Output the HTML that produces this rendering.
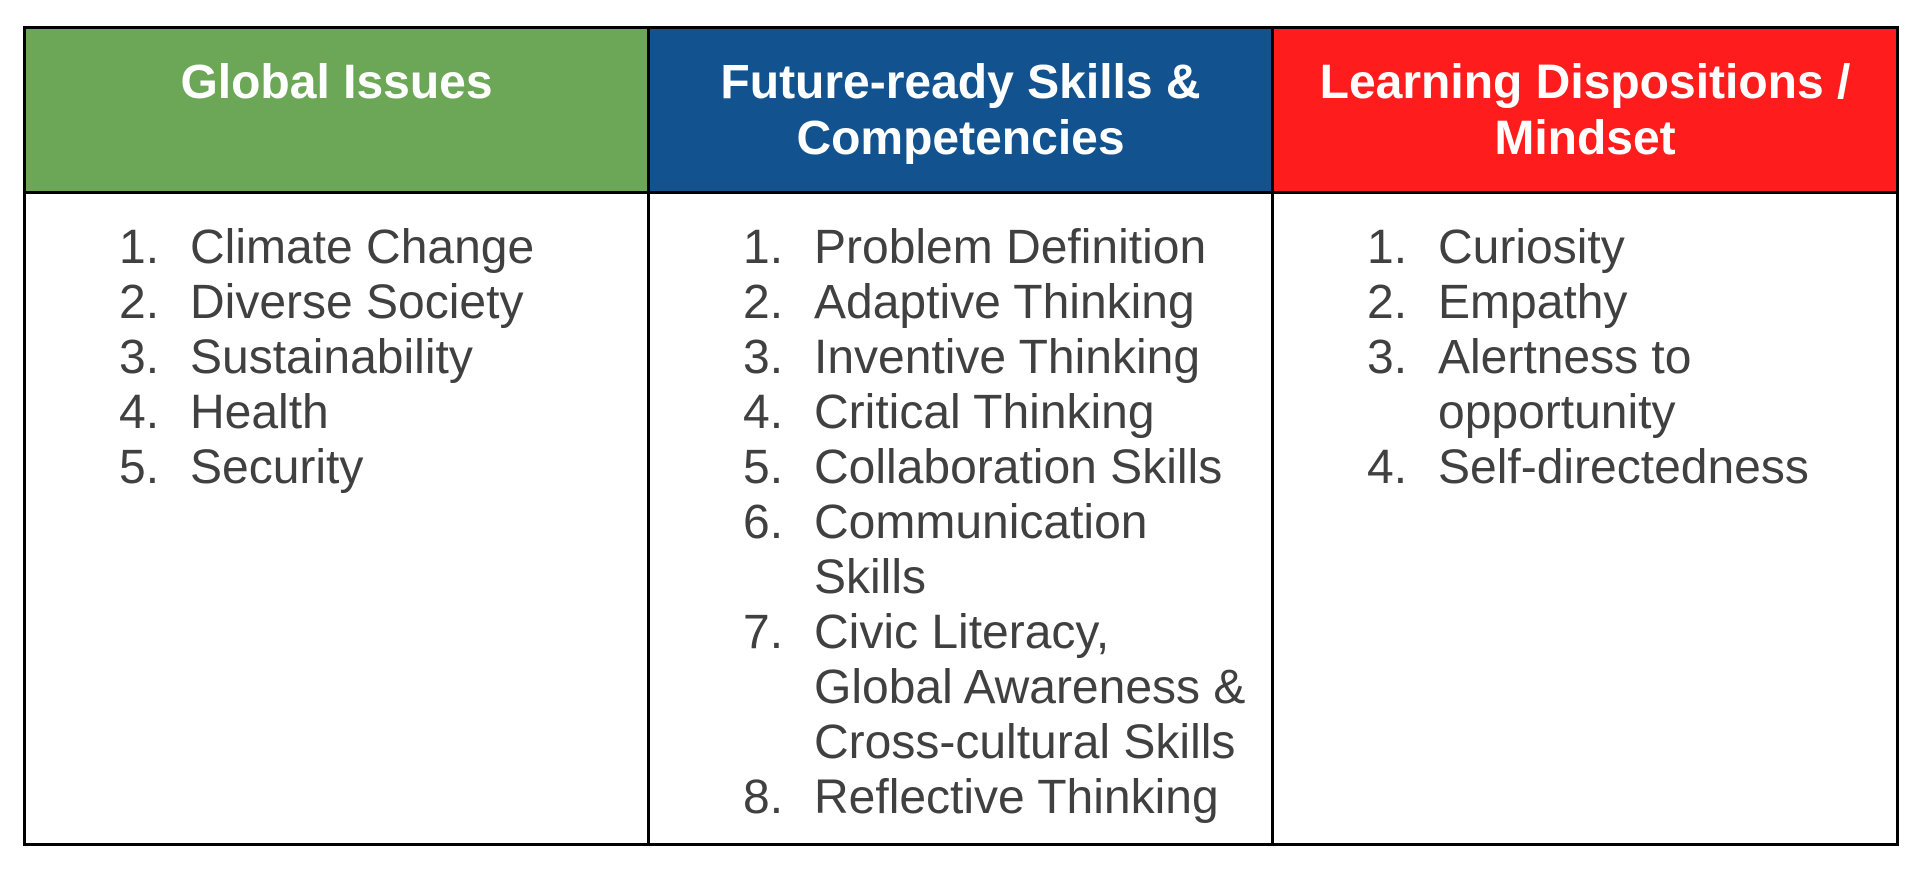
<!DOCTYPE html>
<html><head><meta charset="utf-8"><style>
body{margin:0;width:1922px;height:872px;background:#fff;position:relative;overflow:hidden;font-family:"Liberation Sans",Arial,sans-serif}
.cell{position:absolute;box-sizing:border-box}
.h{color:#fff;font-weight:bold;font-size:48px;line-height:56px;text-align:center;padding-top:28px}
.it{position:absolute;font-size:48px;line-height:55px;color:#404040;white-space:nowrap}
.v{position:absolute;background:#000}
</style></head><body>
<div class="cell h" style="left:24px;top:27px;width:625px;height:166px;background:#6ca757">Global Issues</div>
<div class="cell h" style="left:648px;top:27px;width:625px;height:166px;background:#12538f">Future-ready Skills &amp;<br>Competencies</div>
<div class="cell h" style="left:1272px;top:27px;width:626px;height:166px;background:#fe1c1c">Learning Dispositions /<br>Mindset</div>
<div class="v" style="left:23px;top:26px;width:1876px;height:3px"></div>
<div class="v" style="left:23px;top:191px;width:1876px;height:3px"></div>
<div class="v" style="left:23px;top:843px;width:1876px;height:3px"></div>
<div class="v" style="left:23px;top:26px;width:3px;height:820px"></div>
<div class="v" style="left:647px;top:26px;width:3px;height:820px"></div>
<div class="v" style="left:1271px;top:26px;width:3px;height:820px"></div>
<div class="v" style="left:1896px;top:26px;width:3px;height:820px"></div>
<div id="lists"></div>
<script>
const col1=["Climate Change","Diverse Society","Sustainability","Health","Security"];
const col2=["Problem Definition","Adaptive Thinking","Inventive Thinking","Critical Thinking","Collaboration Skills","Communication\nSkills","Civic Literacy,\nGlobal Awareness &\nCross-cultural Skills","Reflective Thinking"];
const col3=["Curiosity","Empathy","Alertness to\nopportunity","Self-directedness"];
const lefts=[24,648,1272];
const host=document.getElementById('lists');
[col1,col2,col3].forEach((items,c)=>{
  let line=0;
  items.forEach((t,i)=>{
    const top=220+line*55;
    const n=document.createElement('div');
    n.className='it';n.style.left=(lefts[c]+95)+'px';n.style.top=top+'px';n.textContent=(i+1)+'.';
    
    
    host.appendChild(n);
    const d=document.createElement('div');
    d.className='it';d.style.left=(lefts[c]+166)+'px';d.style.top=top+'px';
    d.innerHTML=t.replace(/&/g,'&amp;').replace(/\n/g,'<br>');
    
    
    host.appendChild(d);
    line+=t.split('\n').length;
  });
});
</script>
</body></html>
